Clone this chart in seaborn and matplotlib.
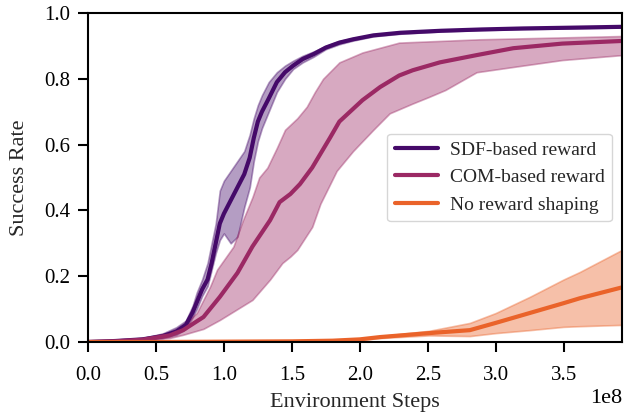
import matplotlib
matplotlib.use("Agg")
import matplotlib.pyplot as plt
import seaborn as sns
import numpy as np
import pandas as pd

# ---- data (x in units of 1e8 environment steps) ----
sdf_x = [0.0, 0.2, 0.4, 0.55, 0.65, 0.72, 0.77, 0.80, 0.84, 0.88, 0.91, 0.94, 0.97, 1.0,
         1.05, 1.1, 1.15, 1.19, 1.22, 1.25, 1.28, 1.33, 1.39, 1.45, 1.51, 1.58, 1.66,
         1.75, 1.85, 1.95, 2.1, 2.3, 2.6, 2.9, 3.2, 3.5, 3.93]
sdf_mean = [0.0, 0.003, 0.008, 0.018, 0.032, 0.052, 0.09, 0.12, 0.16, 0.19, 0.24, 0.30, 0.36, 0.39,
            0.43, 0.47, 0.51, 0.56, 0.62, 0.67, 0.70, 0.74, 0.79, 0.82, 0.84, 0.86, 0.875,
            0.895, 0.91, 0.92, 0.932, 0.94, 0.946, 0.95, 0.953, 0.955, 0.958]
sdf_lo = [0.0, 0.001, 0.005, 0.012, 0.022, 0.04, 0.075, 0.10, 0.14, 0.17, 0.22, 0.27, 0.31, 0.33,
          0.30, 0.32, 0.41, 0.47, 0.55, 0.61, 0.65, 0.70, 0.76, 0.80, 0.83, 0.85, 0.867,
          0.89, 0.905, 0.916, 0.929, 0.937, 0.944, 0.948, 0.951, 0.953, 0.956]
sdf_hi = [0.002, 0.005, 0.012, 0.026, 0.045, 0.065, 0.11, 0.15, 0.19, 0.24, 0.30, 0.36, 0.46, 0.49,
          0.52, 0.55, 0.58, 0.63, 0.68, 0.72, 0.75, 0.79, 0.82, 0.84, 0.855, 0.87, 0.883,
          0.90, 0.915, 0.924, 0.935, 0.943, 0.948, 0.952, 0.955, 0.957, 0.96]

com_x = [0.0, 0.2, 0.4, 0.6, 0.70, 0.85, 0.97, 1.10, 1.21, 1.34, 1.41, 1.49, 1.56, 1.65,
         1.78, 1.85, 2.02, 2.15, 2.29, 2.39, 2.59, 2.86, 3.13, 3.49, 3.93]
com_mean = [0.0, 0.002, 0.007, 0.02, 0.036, 0.076, 0.137, 0.21, 0.29, 0.37, 0.425, 0.45, 0.48, 0.53,
            0.62, 0.67, 0.735, 0.775, 0.81, 0.826, 0.85, 0.872, 0.893, 0.907, 0.915]
comu_x = [0.0, 0.4, 0.6, 0.70, 0.80, 0.90, 0.95, 1.07, 1.14, 1.21, 1.26, 1.32, 1.39, 1.45,
          1.54, 1.61, 1.67, 1.73, 1.85, 2.02, 2.29, 2.88, 3.93]
com_hi = [0.002, 0.01, 0.03, 0.05, 0.088, 0.17, 0.22, 0.29, 0.37, 0.44, 0.50, 0.53, 0.59, 0.645,
          0.68, 0.715, 0.76, 0.80, 0.85, 0.88, 0.91, 0.92, 0.93]
coml_x = [0.0, 0.4, 0.6, 0.70, 0.85, 0.97, 1.21, 1.34, 1.43, 1.49, 1.54, 1.65, 1.71, 1.83,
          1.95, 2.10, 2.22, 2.39, 2.51, 2.63, 2.86, 3.13, 3.49, 3.93]
com_lo = [0.0, 0.005, 0.012, 0.022, 0.04, 0.067, 0.128, 0.19, 0.24, 0.26, 0.28, 0.35, 0.42, 0.52,
          0.58, 0.645, 0.695, 0.725, 0.745, 0.766, 0.82, 0.836, 0.857, 0.872]

no_x = [0.0, 0.5, 1.0, 1.5, 1.8, 2.0, 2.15, 2.51, 2.81, 3.0, 3.25, 3.5, 3.62, 3.93]
no_mean = [0.0, 0.0, 0.001, 0.002, 0.004, 0.008, 0.015, 0.027, 0.036, 0.058, 0.088, 0.118, 0.133, 0.166]
no_lo = [0.0, 0.0, 0.0, 0.001, 0.003, 0.006, 0.012, 0.02, 0.018, 0.027, 0.036, 0.046, 0.048, 0.052]
no_hi = [0.0, 0.001, 0.002, 0.003, 0.006, 0.01, 0.018, 0.034, 0.058, 0.088, 0.137, 0.19, 0.213, 0.28]

labels = ["SDF-based reward", "COM-based reward", "No reward shaping"]
x_ticks = [0.0, 0.5, 1.0, 1.5, 2.0, 2.5, 3.0, 3.5]
y_ticks = [0.0, 0.2, 0.4, 0.6, 0.8, 1.0]

SCALE = 1e8

sns.set_style("ticks")
plt.rcParams['font.family'] = ['Liberation Serif', 'DejaVu Serif']
plt.rcParams['mathtext.fontset'] = 'stix'

colors = [plt.cm.inferno(0.21), plt.cm.inferno(0.42), plt.cm.inferno(0.65)]

fig = plt.figure(figsize=(6.24, 4.15), dpi=100)
ax = fig.add_axes([88/624, 1-342/415, (622-88)/624, (342-13)/415])

series = [
    (sdf_x, sdf_mean, sdf_x, sdf_lo, sdf_x, sdf_hi),
    (com_x, com_mean, coml_x, com_lo, comu_x, com_hi),
    (no_x, no_mean, no_x, no_lo, no_x, no_hi),
]

for (mx, my, lx, ly, hx, hy), lab, c in zip(series, labels, colors):
    grid = np.array(sorted(set(lx) | set(hx)))
    lo = np.interp(grid, lx, ly)
    hi = np.interp(grid, hx, hy)
    ax.fill_between(grid * SCALE, lo, hi, color=c, alpha=0.4, lw=1.2)
    df = pd.DataFrame({"x": np.array(mx) * SCALE, "y": my})
    sns.lineplot(data=df, x="x", y="y", ax=ax, color=c, lw=3.0, label=lab)

ax.set_xlim(0, 3.93 * SCALE)
ax.set_ylim(0, 1.0)
ax.set_xticks([t * SCALE for t in x_ticks])
ax.set_yticks(y_ticks)
ax.ticklabel_format(axis='x', style='sci', scilimits=(8, 8))
ax.tick_params(labelsize=15, length=7, width=1.5, colors='black')
ax.tick_params(axis='x', pad=10)
ax.tick_params(axis='y', pad=6)
ax.xaxis.get_offset_text().set_fontsize(16)
for s in ax.spines.values():
    s.set_visible(True)
    s.set_linewidth(1.5)
    s.set_color('black')
ax.set_xlabel("Environment Steps", fontsize=16, labelpad=6)
ax.set_ylabel("Success Rate", fontsize=16, labelpad=11)
leg = ax.legend(loc='center right', fontsize=14, handlelength=2.2, handletextpad=0.6,
                borderaxespad=0.5, labelspacing=0.5)

fig.savefig("out.png", dpi=100)
